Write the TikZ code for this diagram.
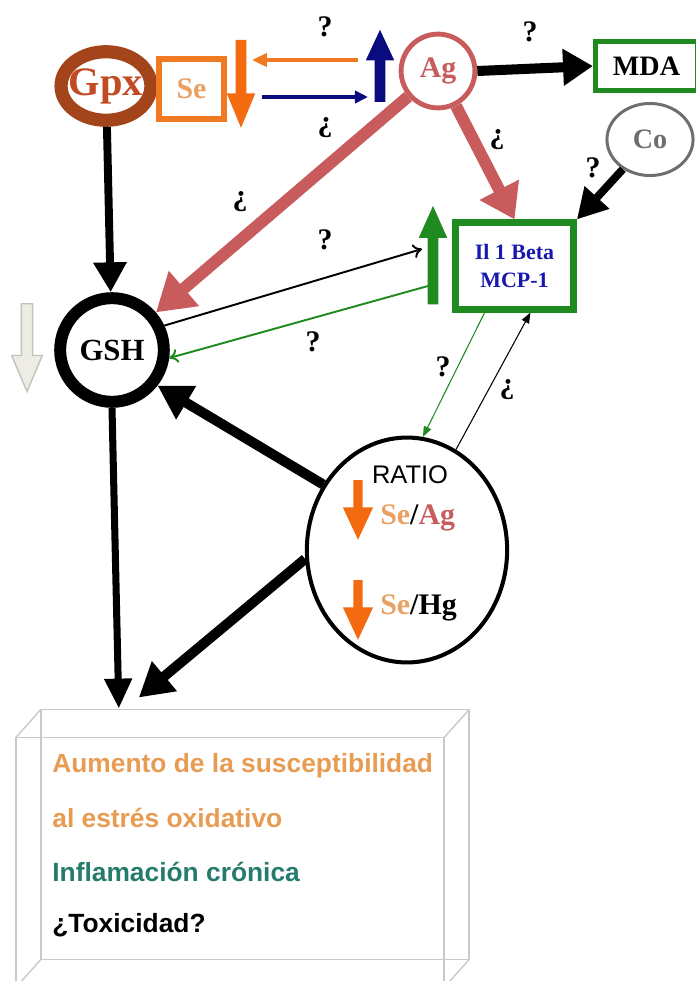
\documentclass[tikz,border=0pt]{standalone}
\usepackage{fontspec}
\setmainfont{Liberation Serif}
\setsansfont{Liberation Sans}
\usepackage{tikz}
\usetikzlibrary{shapes.geometric, shapes.arrows, arrows.meta, positioning}

\definecolor{gpxbrown}{HTML}{A3441B}
\definecolor{gpxtext}{HTML}{C24A25}
\definecolor{seorange}{HTML}{F07A22}
\definecolor{setext}{HTML}{E9A063}
\definecolor{fatorange}{HTML}{F46A10}
\definecolor{navy}{HTML}{0B0B80}
\definecolor{agred}{HTML}{C85C5C}
\definecolor{mdagreen}{HTML}{1F8A1F}
\definecolor{cogrey}{HTML}{6E6E6E}
\definecolor{ilblue}{HTML}{1818B0}
\definecolor{beige}{HTML}{EEEDE5}
\definecolor{beigeline}{HTML}{C4C3BA}
\definecolor{boxgrey}{HTML}{C9C9C9}
\definecolor{efforange}{HTML}{E89B52}
\definecolor{effteal}{HTML}{257B6C}

\begin{document}
\begin{tikzpicture}[
    x=0.02cm, y=-0.02cm,
    bold/.style={font=\bfseries\fontsize{#1}{#1}\selectfont},
    qmark/.style={bold=17, inner sep=0pt},
    fat/.style={single arrow, draw=none, inner xsep=0pt, outer sep=0pt, minimum height=#1},
    ring/.style={ellipse, draw, inner sep=0pt},
    frame/.style={rectangle, draw, inner sep=0pt},
    big/.style={line width=#1, -{Triangle[length=17pt, width=18pt]}},
    thin/.style={line width=1.1pt, -{To[length=5pt, width=8pt]}},
    hair/.style={line width=0.6pt, -{Triangle[length=6pt, width=4.5pt]}},
    efftext/.style={font=\sffamily\bfseries\fontsize{15}{15}\selectfont, anchor=west, inner sep=0pt},
    boxline/.style={draw=boxgrey, line width=0.8pt}
]
\useasboundingbox (0,0) rectangle (696,981);

\node[ring, draw=gpxbrown, line width=7.5pt, minimum width=50pt, minimum height=39pt, inner xsep=-3pt, text=gpxtext, bold=23] (gpx) at (106,86) {Gpx};
\node[frame, draw=seorange, line width=3.4pt, minimum width=37pt, minimum height=34pt, text=setext, bold=17] (se) at (191.5,89) {Se};
\node[fat=50pt, fill=fatorange, rotate=-90, inner ysep=2.8pt, single arrow head extend=5.1pt, single arrow tip angle=45] (sedown) at (241,77.5) {};
\node[fat=41pt, fill=navy, rotate=90, inner ysep=2.8pt, single arrow head extend=5.1pt, single arrow tip angle=50] (agup) at (380,71.5) {};
\node[ring, circle, draw=agred, line width=2.8pt, minimum size=42pt, text=agred, bold=17] (ag) at (438,71) {Ag};
\node[frame, draw=mdagreen, line width=3pt, minimum width=58pt, minimum height=28pt, bold=16] (mda) at (646.5,66) {MDA};
\node[ring, draw=cogrey, line width=1.7pt, minimum width=49pt, minimum height=41pt, text=cogrey, bold=16] (co) at (650,139.5) {Co};
\node[frame, draw=mdagreen, line width=4pt, minimum width=67pt, minimum height=49pt, text=ilblue, bold=12.5, align=center] (il) at (514.5,266) {Il 1 Beta\\[3pt]MCP-1};
\node[fat=56pt, fill=mdagreen, rotate=90, inner ysep=2.8pt, single arrow head extend=5.1pt, single arrow tip angle=48] (ilup) at (433,261) {};
\node[ring, circle, line width=6.8pt, minimum size=59pt, bold=17.5] (gsh) at (112,350) {GSH};
\node[fat=50pt, fill=beige, draw=beigeline, line width=0.8pt, rotate=-90, inner ysep=2.8pt, single arrow head extend=5.5pt, single arrow tip angle=46] (gshdown) at (27,341) {};
\node[ring, line width=2.3pt, minimum width=114pt, minimum height=128pt] (ratio) at (407,550) {};
\node[font=\sffamily\fontsize{14.5}{14.5}\selectfont, inner sep=0pt] (ratiolabel) at (410,475) {RATIO};
\node[fat=34pt, fill=fatorange, rotate=-90, inner ysep=2.4pt, single arrow head extend=6pt, single arrow tip angle=50] (agarrow) at (358,505) {};
\node[fat=34pt, fill=fatorange, rotate=-90, inner ysep=2.4pt, single arrow head extend=6pt, single arrow tip angle=50] (hgarrow) at (358,605) {};
\node[bold=17, anchor=west, inner sep=0pt] (seag) at (380,518) {\textcolor{setext}{Se}/\textcolor{agred}{Ag}};
\node[bold=17, anchor=west, inner sep=0pt] (sehg) at (380,608) {\textcolor{setext}{Se}/Hg};

\node[rectangle, boxline, minimum width=243.8pt, minimum height=142.3pt, outer sep=0pt] (effects) at (230,862.5) {};
\draw[boxline] ([shift={(25,-28)}]effects.north west) rectangle ([shift={(25,-28)}]effects.south east);
\foreach \c in {north west, north east, south west, south east}
    \draw[boxline] (effects.\c) -- ++(25,-28);
\node[efftext, text=efforange] (aumento) at (52,766) {Aumento de la susceptibilidad};
\node[efftext, text=efforange] (estres) at (52,818) {al estrés oxidativo};
\node[efftext, text=effteal] (inflam) at (52,872) {Inflamación crónica};
\node[efftext, text=black] (toxic) at (52,925) {¿Toxicidad?};

\coordinate (effin) at ([shift={(103,-29)}]effects.north west);
\coordinate (effin2) at ([shift={(123,-40)}]effects.north west);
\coordinate (ilin) at ([shift={(-11,-12)}]ilup.center);
\coordinate (ilout) at ([shift={(-5,25)}]ilup.center);

\draw[line width=2.2pt, seorange, -{Triangle[length=8.5pt, width=7.5pt]}] ([shift={(-22,-11.5)}]agup.center) -- ([shift={(11,-17.5)}]sedown.center);
\draw[line width=2pt, navy, -{Triangle[length=7.5pt, width=7pt]}] ([shift={(21,19.5)}]sedown.center) -- ([shift={(-12,25.5)}]agup.center);
\draw[big=4.5pt] (gpx) -- (gsh);
\draw[line width=5.7pt, -{Triangle[length=17pt, width=20pt]}] (ag.east) -- (mda.west);
\draw[big=4.5pt] (co) -- (il.north east);
\draw[line width=6.8pt, agred, -{Triangle[length=21pt, width=25pt]}] (ag) -- (gsh);
\draw[line width=6.8pt, agred, -{Triangle[length=19pt, width=24pt]}] (ag) -- (il.north);
\draw[thin] (gsh.25) -- (ilin);
\draw[thin, mdagreen] (ilout) -- (gsh.-8);
\draw[hair, mdagreen] ([xshift=-30*0.5669pt]il.south) -- (ratio.82);
\draw[hair] (ratio.64) -- ([xshift=16*0.5669pt]il.south);
\draw[line width=5.7pt, -{Triangle[length=19pt, width=21pt]}] (ratio.142) -- (gsh.-38);
\draw[line width=5.7pt, -{Triangle[length=19pt, width=21pt]}] (ratio.185) -- (effin2);
\draw[line width=4pt, -{Triangle[length=17pt, width=15pt]}] (gsh.south) -- (effin);

\node[qmark] (q1) at (325,27) {?};
\node[qmark] (q2) at (325,128) {¿};
\node[qmark] (q3) at (530,32) {?};
\node[qmark] (q4) at (497,140) {¿};
\node[qmark] (q5) at (593,168) {?};
\node[qmark] (q6) at (240,202) {¿};
\node[qmark] (q7) at (325,240) {?};
\node[qmark] (q8) at (313,342) {?};
\node[qmark] (q9) at (443,367) {?};
\node[qmark] (q10) at (507,390) {¿};
\end{tikzpicture}
\end{document}
